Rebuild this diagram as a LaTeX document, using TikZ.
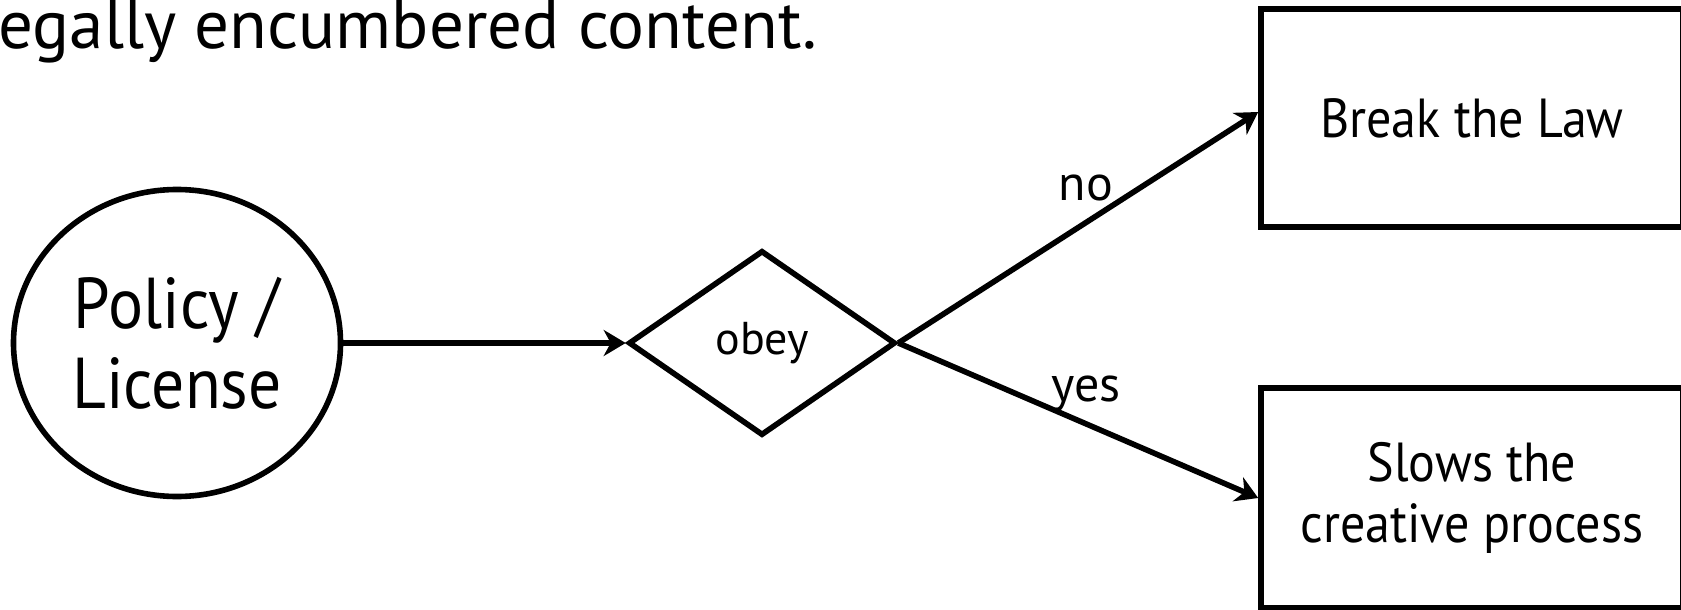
\documentclass[tikz,border=0pt]{standalone}
\usepackage{fontspec}
\setmainfont{PT Sans}
\newfontfamily\narrowsans[FakeStretch=0.91]{PT Sans}
\usetikzlibrary{shapes.geometric,arrows.meta}

\tikzset{
  flow/.style={draw=black, line width=2.8pt, -{Stealth[length=11pt,width=13pt,inset=3.5pt]}},
  startnode/.style={ellipse, draw, line width=2.8pt, minimum width=163.5pt, minimum height=153.5pt,
    inner sep=0pt, align=center, font=\narrowsans\fontsize{36}{40}\selectfont},
  decision/.style={diamond, draw, line width=2.8pt, minimum width=133.5pt, minimum height=92.5pt,
    inner sep=0pt, font=\fontsize{23}{26}\selectfont},
  outcome/.style={rectangle, draw, line width=2.8pt, minimum width=211pt, minimum height=109pt,
    inner sep=0pt, align=center, font=\narrowsans\fontsize{27.5}{30.5}\selectfont},
  edgelabel/.style={font=\fontsize{25}{28}\selectfont, inner sep=0pt},
}

\begin{document}
\begin{tikzpicture}[x=0.5pt, y=-0.5pt]
  \useasboundingbox (0,0) rectangle (1681,610);
  \clip (0,0) rectangle (1681,610);

  % heading line running in from the left
  \node[anchor=base west, inner sep=0pt, font=\fontsize{34.5}{38}\selectfont] (title) at (-2,49)
    {egally encumbered content.};

  \node[startnode] (policy) at (177,343) {Policy /\\License};
  \node[decision] (obey) at (762,343) {obey};
  \node[outcome] (law) at (1472,118) {Break the Law};
  \node[outcome, minimum height=110pt] (slow) at (1472,498) {Slows the\\creative process};

  \draw[flow] (policy.east) -- (obey.west);
  \draw[flow] (obey.east) -- ([yshift=3pt]law.west);
  \draw[flow] (obey.east) -- (slow.west);

  \node[edgelabel] (no) at (1086,188) {no};
  \node[edgelabel] (yes) at (1086,394) {yes};
\end{tikzpicture}
\end{document}
